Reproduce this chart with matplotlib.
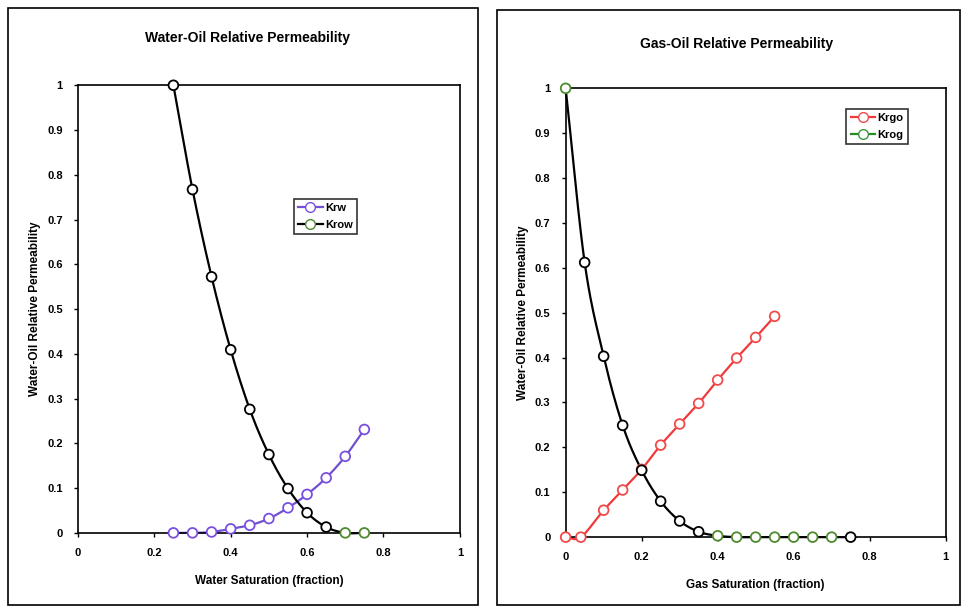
import matplotlib
matplotlib.use("Agg")
import matplotlib.pyplot as plt
from matplotlib.patches import Rectangle
import numpy as np

plt.rcParams['font.family'] = ['Liberation Sans', 'DejaVu Sans']

# ---- data: water-oil ----
sw = [0.25, 0.30, 0.35, 0.40, 0.45, 0.50, 0.55, 0.60, 0.65, 0.70, 0.75]
krw = [0.0, 0.0, 0.002, 0.009, 0.017, 0.032, 0.056, 0.086, 0.123, 0.171, 0.231]
krow = [1.0, 0.767, 0.572, 0.409, 0.276, 0.175, 0.099, 0.045, 0.013, 0.0, 0.0]

# ---- data: gas-oil ----
sg_krgo = [0.0, 0.04, 0.10, 0.15, 0.20, 0.25, 0.30, 0.35, 0.40, 0.45, 0.50, 0.55]
krgo = [0.0, 0.0, 0.06, 0.105, 0.151, 0.205, 0.252, 0.298, 0.35, 0.399, 0.445, 0.492]
sg_krog = [0.0, 0.05, 0.10, 0.15, 0.20, 0.25, 0.30, 0.35, 0.40, 0.45, 0.50, 0.55,
           0.60, 0.65, 0.70, 0.75]
krog = [1.0, 0.612, 0.403, 0.249, 0.149, 0.080, 0.036, 0.012, 0.003, 0.0, 0.0, 0.0,
        0.0, 0.0, 0.0, 0.0]

x_ticks = [0, 0.2, 0.4, 0.6, 0.8, 1]
x_ticklabels = ['0', '0.2', '0.4', '0.6', '0.8', '1']
y_ticks = [0, 0.1, 0.2, 0.3, 0.4, 0.5, 0.6, 0.7, 0.8, 0.9, 1]
y_ticklabels = ['0', '0.1', '0.2', '0.3', '0.4', '0.5', '0.6', '0.7', '0.8', '0.9', '1']

# marker edge colours per point (scan shows mixed black / green)
BLK, GRN = 'black', '#4e8a2e'
krow_mcolors = [BLK, BLK, BLK, BLK, BLK, BLK, BLK, BLK, BLK, GRN, GRN]
krog_mcolors = [GRN, BLK, BLK, BLK, BLK, BLK, BLK, BLK, GRN, GRN, GRN, GRN,
                GRN, GRN, GRN, BLK]


def smooth(x, y, n=20):
    """Catmull-Rom style smoothing like spreadsheet 'smoothed line' (drawing only)."""
    x = np.asarray(x, float)
    y = np.asarray(y, float)
    px = np.concatenate([[2 * x[0] - x[1]], x, [2 * x[-1] - x[-2]]])
    py = np.concatenate([[2 * y[0] - y[1]], y, [2 * y[-1] - y[-2]]])
    xs, ys = [], []
    t = np.linspace(0, 1, n, endpoint=False)
    for i in range(1, len(px) - 2):
        p0x, p1x, p2x, p3x = px[i - 1:i + 3]
        p0y, p1y, p2y, p3y = py[i - 1:i + 3]
        # bezier control points (tension 1/6)
        c1x = p1x + (p2x - p0x) / 6
        c1y = p1y + (p2y - p0y) / 6
        c2x = p2x - (p3x - p1x) / 6
        c2y = p2y - (p3y - p1y) / 6
        bx = ((1 - t) ** 3 * p1x + 3 * (1 - t) ** 2 * t * c1x
              + 3 * (1 - t) * t ** 2 * c2x + t ** 3 * p2x)
        by = ((1 - t) ** 3 * p1y + 3 * (1 - t) ** 2 * t * c1y
              + 3 * (1 - t) * t ** 2 * c2y + t ** 3 * p2y)
        xs.extend(bx)
        ys.extend(by)
    xs.append(x[-1])
    ys.append(y[-1])
    return xs, ys


fig = plt.figure(figsize=(9.62, 6.09), dpi=100)

# outer frames
fig.patches.append(Rectangle((0.0083, 0.007), 0.489, 0.98, transform=fig.transFigure,
                             fill=False, edgecolor='black', linewidth=1.2))
fig.patches.append(Rectangle((0.517, 0.007), 0.481, 0.977, transform=fig.transFigure,
                             fill=False, edgecolor='black', linewidth=1.2))

ax1 = fig.add_axes([0.081, 0.125, 0.397, 0.735])
ax2 = fig.add_axes([0.588, 0.118, 0.395, 0.737])

MS = 7
LW = 1.6


def series(ax, x, y, lcolor, mcolors):
    sx, sy = smooth(x, y)
    ax.plot(sx, sy, color=lcolor, linewidth=LW, zorder=2, clip_on=False)
    ax.scatter(x, y, s=MS ** 2, facecolors='white', edgecolors=mcolors,
               linewidths=1.3, zorder=3, clip_on=False)


# water-oil
series(ax1, sw, krw, '#7050d0', ['#7a4fe0'] * len(sw))
series(ax1, sw, krow, 'black', krow_mcolors)
ax1.plot([], [], color='#7050d0', linewidth=LW, marker='o', markersize=MS,
         markerfacecolor='white', markeredgecolor='#7a4fe0', label='Krw')
ax1.plot([], [], color='black', linewidth=LW, marker='o', markersize=MS,
         markerfacecolor='white', markeredgecolor=GRN, label='Krow')

# gas-oil
series(ax2, sg_krgo, krgo, '#f03a3a', ['#f04a4a'] * len(sg_krgo))
series(ax2, sg_krog, krog, 'black', krog_mcolors)
ax2.plot([], [], color='#f03a3a', linewidth=LW, marker='o', markersize=MS,
         markerfacecolor='white', markeredgecolor='#f04a4a', label='Krgo')
ax2.plot([], [], color='#2a8a2a', linewidth=LW, marker='o', markersize=MS,
         markerfacecolor='white', markeredgecolor='#3a9a3a', label='Krog')

titles = ['Water-Oil Relative Permeability', 'Gas-Oil Relative Permeability']
xlabels = ['Water Saturation (fraction)', 'Gas Saturation (fraction)']
for ax, t, xl in zip([ax1, ax2], titles, xlabels):
    ax.set_xlim(0, 1)
    ax.set_ylim(0, 1)
    ax.set_xticks(x_ticks)
    ax.set_xticklabels(x_ticklabels, fontsize=8, fontweight='bold')
    ax.set_yticks(y_ticks)
    ax.set_yticklabels(y_ticklabels, fontsize=8, fontweight='bold')
    ax.tick_params(direction='out', length=3, width=1, pad=8)
    for s in ax.spines.values():
        s.set_linewidth(1.2)
    ax.set_xlabel(xl, fontsize=8.5, fontweight='bold', labelpad=12)
    ax.set_ylabel('Water-Oil Relative Permeability', fontsize=8.5, fontweight='bold',
                  labelpad=4)

fig.text(0.257, 0.937, titles[0], ha='center', va='center', fontsize=10,
         fontweight='bold')
fig.text(0.766, 0.927, titles[1], ha='center', va='center', fontsize=10,
         fontweight='bold')

leg_kw = dict(fontsize=8, frameon=True, fancybox=False, edgecolor='black',
              handlelength=2.2, handletextpad=0.2, borderpad=0.4,
              labelspacing=0.6, borderaxespad=0)
l1 = ax1.legend(loc='upper left', bbox_to_anchor=(0.565, 0.747), **leg_kw)
l2 = ax2.legend(loc='upper left', bbox_to_anchor=(0.738, 0.955), **leg_kw)
for l in (l1, l2):
    l.get_frame().set_linewidth(1.2)
    for txt in l.get_texts():
        txt.set_fontweight('bold')

fig.savefig('out.png', dpi=100)
